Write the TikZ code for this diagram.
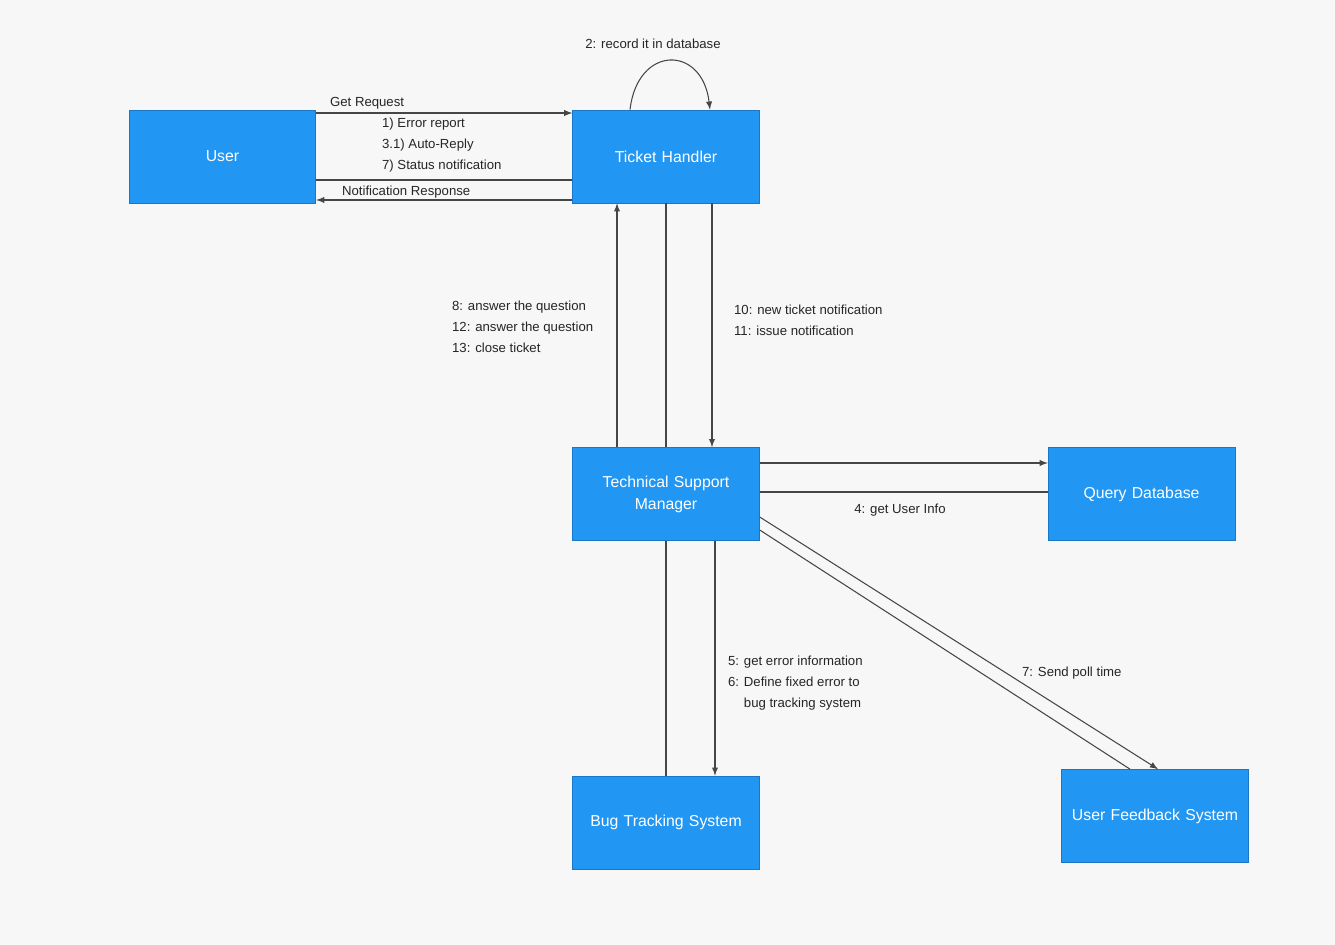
\documentclass[tikz,border=0pt]{standalone}
\usepackage{fontspec}
\setmainfont{Liberation Sans}
\definecolor{boxblue}{RGB}{33,150,243}
\definecolor{boxedge}{RGB}{28,118,200}
\definecolor{paper}{RGB}{247,247,247}
\definecolor{wire}{RGB}{70,70,70}

\tikzset{>=latex,
                 box/.style={fill=boxblue, draw=boxedge, minimum width=3.72cm, minimum height=1.86cm, text width=3.5cm, align=center, text=white, font=\fontsize{9}{12.5}\selectfont},
                 msg/.style={font=\fontsize{7.5}{12}\selectfont, text=black!85, inner sep=1pt, align=left},
                 wire/.style={draw=wire, line width=0.6pt}}

\begin{document}
\begin{tikzpicture}[x=0.02cm, y=-0.02cm]
            \fill[paper] (0,0) rectangle (1335,945);
            \useasboundingbox (0,0) rectangle (1335,945);

            \node[box] at ( 222.5, 156.5) (user)     {User};
            \node[box] at ( 666.0, 156.5) (ticket)   {Ticket Handler};
            \node[box] at ( 666.0, 494.0) (manager)  {Technical Support\\Manager};
            \node[box] at (1141.5, 494.0) (query)    {Query Database};
            \node[box] at ( 666.0, 822.5) (bug)      {Bug Tracking System};
            \node[box] at (1155.0, 816.0) (feedback) {User Feedback System};

            \draw[wire, ->] ([yshift= 0.87cm]user.east)   -- ([yshift= 0.87cm]ticket.west);
            \draw[wire]     ([yshift=-0.47cm]user.east)   -- ([yshift=-0.47cm]ticket.west);
            \draw[wire, ->] ([yshift=-0.87cm]ticket.west) -- ([yshift=-0.87cm]user.east);

            \draw[wire, ->]
                   ([xshift=-0.72cm]ticket.north)
                .. controls +(0.15cm,1.3cm) and +(-0.15cm,1.3cm)
                .. ([xshift= 0.88cm]ticket.north);

            \draw[wire, ->] ([xshift=-0.98cm]manager.north) -- ([xshift=-0.98cm]ticket.south);
            \draw[wire]     (manager.north) -- (ticket.south);
            \draw[wire, ->] ([xshift= 0.92cm]ticket.south)  -- ([xshift= 0.92cm]manager.north);

            \draw[wire, ->] ([yshift= 0.62cm]manager.east) -- ([yshift= 0.62cm]query.west);
            \draw[wire]     ([yshift= 0.04cm]manager.east) -- ([yshift= 0.04cm]query.west);

            \draw[wire]     (manager.south) -- (bug.north);
            \draw[wire, ->] ([xshift= 0.98cm]manager.south) -- ([xshift= 0.98cm]bug.north);

            \draw[wire, ->] ([yshift=-0.46cm]manager.east) -- ([xshift= 0.06cm]feedback.north);
            \draw[wire]     ([yshift=-0.72cm]manager.east) -- ([xshift=-0.50cm]feedback.north);

            \node[msg]                     at ( 653,  44) (record)   {2: record it in database};
            \node[msg, anchor=south west]  at ( 328, 111) (getreq)   {Get Request};
            \node[msg, anchor=north west]  at ( 380, 116) (reqlist)  {1) Error report\\3.1) Auto-Reply\\7) Status notification};
            \node[msg, anchor=south west]  at ( 340, 200) (resp)     {Notification Response};
            \node[msg, anchor=north west]  at ( 450, 299) (answers)  {8: answer the question\\12: answer the question\\13: close ticket};
            \node[msg, anchor=north west]  at ( 732, 303) (notes)    {10: new ticket notification\\11: issue notification};
            \node[msg]                     at ( 900, 510) (userinfo) {4: get User Info};
            \node[msg, anchor=north west]  at ( 726, 654) (errinfo)  {5: get error information\\6: Define fixed error to\\\hspace{1.2em}bug tracking system};
            \node[msg, anchor=west]        at (1020, 673) (poll)     {7: Send poll time};
        \end{tikzpicture}
\end{document}
